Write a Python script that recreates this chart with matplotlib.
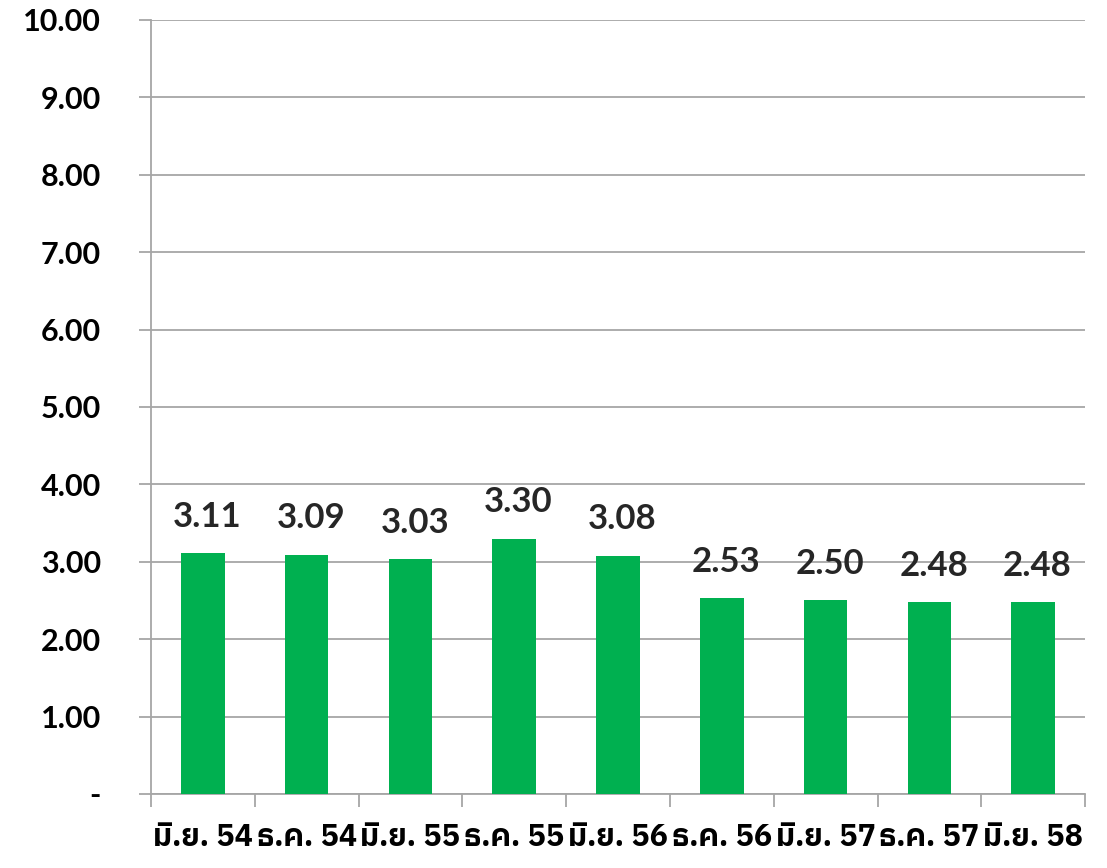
import matplotlib
matplotlib.use("Agg")
import matplotlib.pyplot as plt
import numpy as np

plt.rcParams["font.family"] = ["Lato", "IBM Plex Sans Thai", "Noto Sans Thai", "DejaVu Sans"]

periods = ["มิ.ย. 54", "ธ.ค. 54", "มิ.ย. 55", "ธ.ค. 55", "มิ.ย. 56",
           "ธ.ค. 56", "มิ.ย. 57", "ธ.ค. 57", "มิ.ย. 58"]
values = [3.11, 3.09, 3.03, 3.30, 3.08, 2.53, 2.50, 2.48, 2.48]
yticks = [0, 1, 2, 3, 4, 5, 6, 7, 8, 9, 10]
ylabels = ["-"] + ["%.2f" % v for v in yticks[1:]]

fig = plt.figure(figsize=(11.07, 8.68), dpi=100)
ax = fig.add_axes([0.1364, 0.0853, 0.8438, 0.8917])

x = np.arange(len(periods))
ax.bar(x, values, width=0.42, color="#00b050", zorder=3)

for xi, v in zip(x, values):
    ax.text(xi + 0.04, v + 0.47, "%.2f" % v, ha="center", va="center",
            fontsize=25, color="#262626", fontweight="bold")

ax.set_xlim(-0.5, len(periods) - 0.5)
ax.set_ylim(0, 10)
ax.set_yticks(yticks)
ax.set_yticklabels(ylabels, fontsize=22, fontweight="bold")
ax.tick_params(axis="y", length=9, color="#a6a6a6", width=1.3, pad=27)
ax.grid(axis="y", color="#a6a6a6", linewidth=1.3, zorder=0)

ax.set_xticks(x)
ax.set_xticklabels(periods, fontsize=22, fontweight="bold",
                   family=["IBM Plex Sans Thai", "Noto Sans Thai", "DejaVu Sans"])
ax.set_xticks(np.arange(len(periods) + 1) - 0.5, minor=True)
ax.tick_params(axis="x", which="major", length=0, pad=21)
ax.tick_params(axis="x", which="minor", length=9, color="#a6a6a6", width=1.3)

for side in ["top", "right"]:
    ax.spines[side].set_visible(False)
for side in ["left", "bottom"]:
    ax.spines[side].set_color("#a6a6a6")
    ax.spines[side].set_linewidth(1.3)

fig.savefig("out.png", dpi=100)
